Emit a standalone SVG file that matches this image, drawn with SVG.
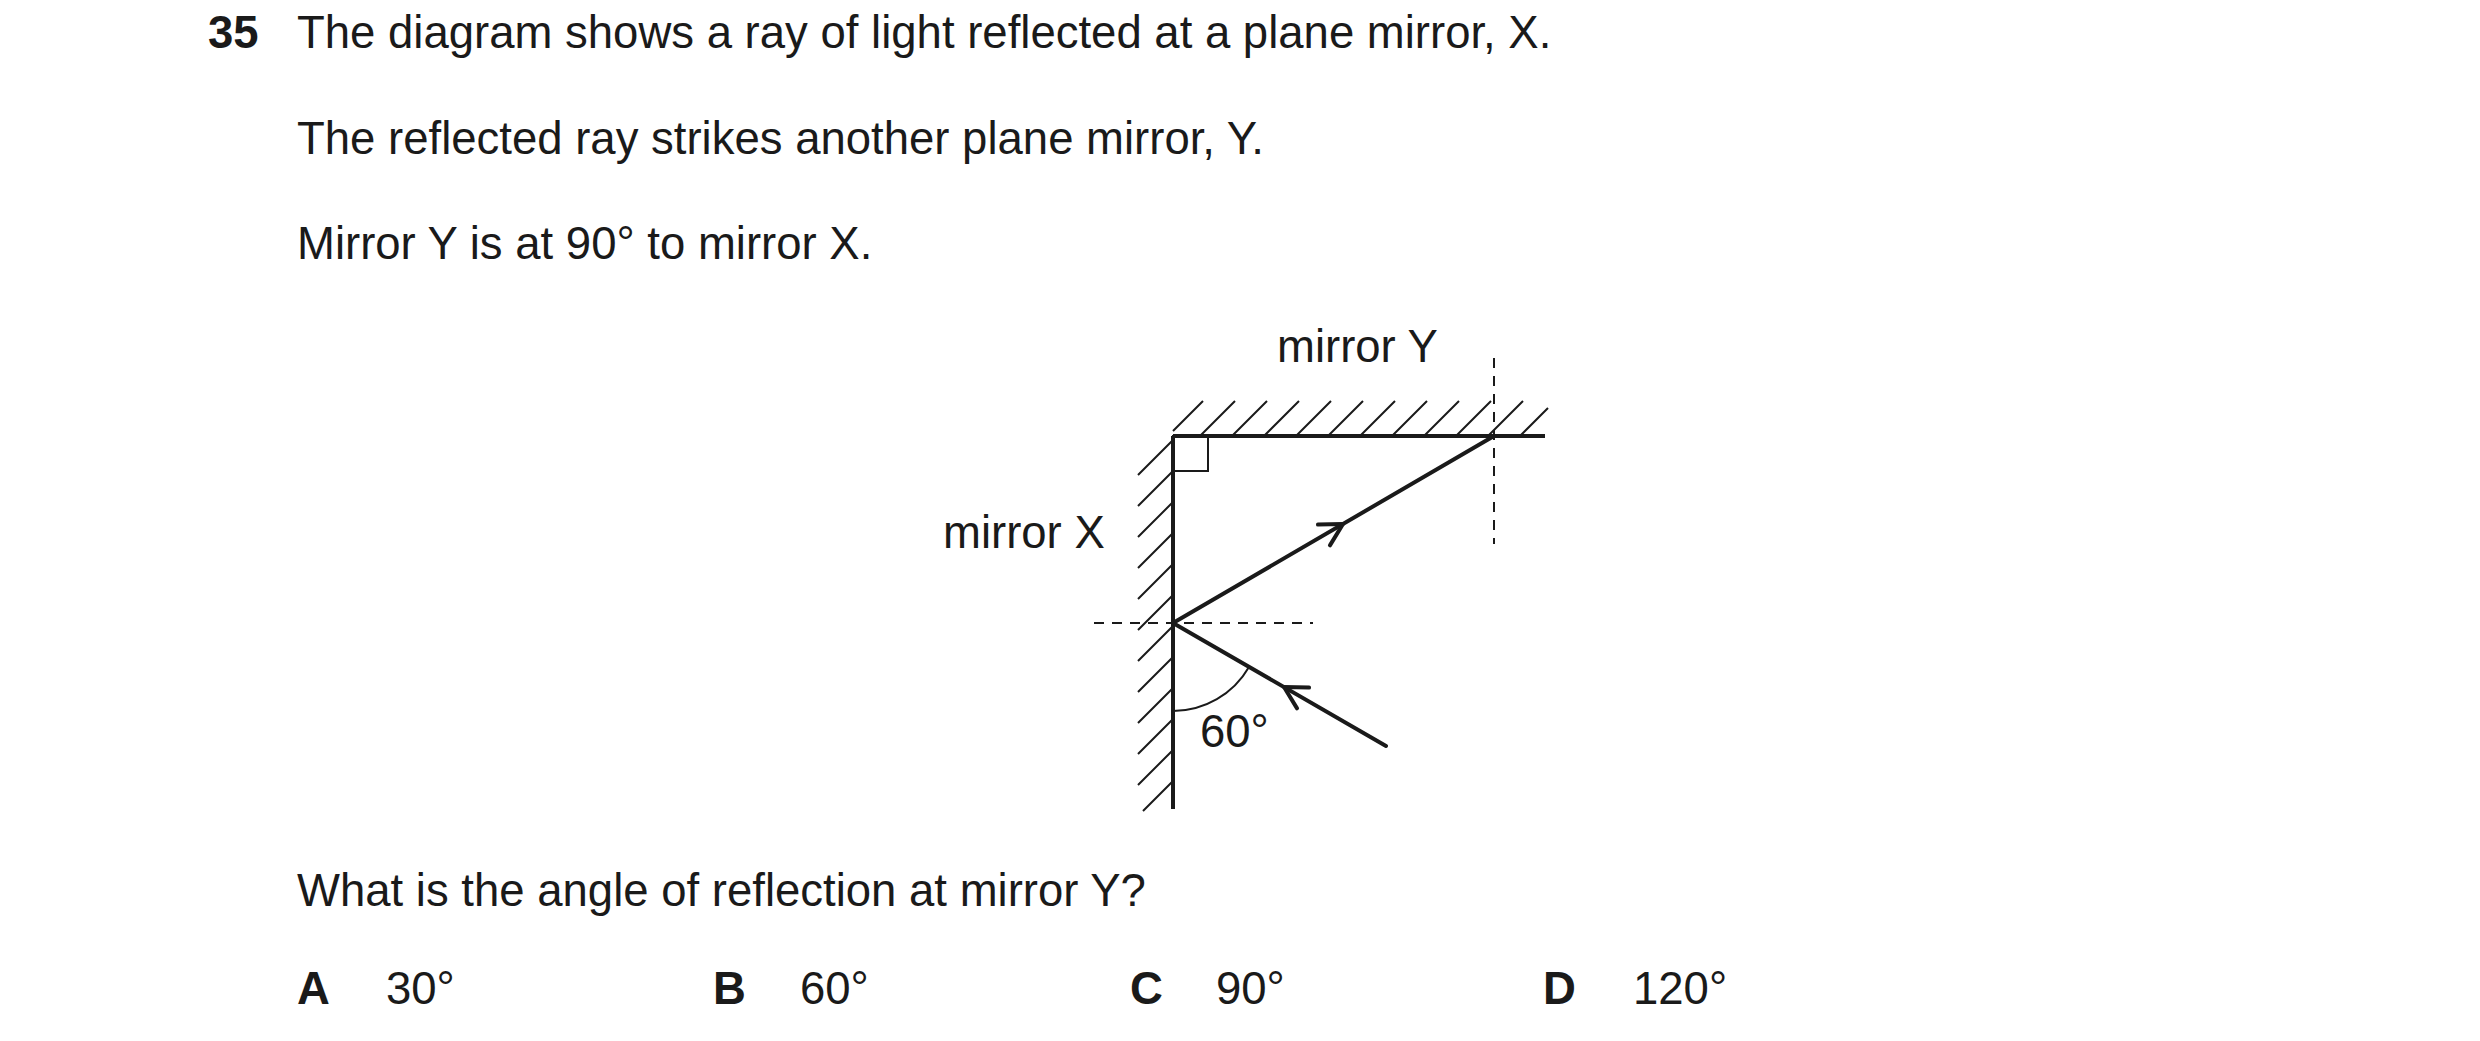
<svg xmlns="http://www.w3.org/2000/svg" width="2480" height="1041" viewBox="0 0 2480 1041">
<style>
text{font-family:"Liberation Sans",Arial,sans-serif;font-size:45.5px;fill:#1a1a1a}
.b{font-weight:bold}
.m{stroke:#1a1a1a;stroke-width:4;fill:none}
.h{stroke:#1a1a1a;stroke-width:2;fill:none}
.d{stroke:#1a1a1a;stroke-width:2;fill:none;stroke-dasharray:10,8}
.r{stroke:#1a1a1a;stroke-width:4;fill:none;stroke-linecap:round;stroke-linejoin:round}
</style>
<rect width="2480" height="1041" fill="#fff"/>
<g id="question">
<text x="208" y="48" class="b">35</text>
<text x="297" y="48">The diagram shows a ray of light reflected at a plane mirror, X.</text>
<text x="297" y="154">The reflected ray strikes another plane mirror, Y.</text>
<text x="297" y="259">Mirror Y is at 90° to mirror X.</text>
<text x="297" y="906">What is the angle of reflection at mirror Y?</text>
</g>
<g id="options">
<text x="297" y="1004" class="b">A</text><text x="386" y="1004">30°</text>
<text x="713" y="1004" class="b">B</text><text x="800" y="1004">60°</text>
<text x="1130" y="1004" class="b">C</text><text x="1216" y="1004">90°</text>
<text x="1543" y="1004" class="b">D</text><text x="1633" y="1004">120°</text>
</g>
<g id="mirrorX">
<line class="m" x1="1173" y1="436" x2="1173" y2="809"/>
<path class="h" d="M1173,440 l-35,35 M1173,471 l-35,35 M1173,502 l-35,35 M1173,533 l-35,35 M1173,564 l-35,35 M1173,595 l-35,35 M1173,626 l-35,35 M1173,657 l-35,35 M1173,688 l-35,35 M1173,719 l-35,35 M1173,750 l-35,35 M1173,781 l-30,30"/>
<text x="943" y="548">mirror X</text>
</g>
<g id="mirrorY">
<line class="m" x1="1173" y1="436" x2="1545" y2="436"/>
<path class="h" d="M1173,431 l30,-30 M1200,436 l35,-35 M1232,436 l35,-35 M1264,436 l35,-35 M1296,436 l35,-35 M1328,436 l35,-35 M1360,436 l35,-35 M1392,436 l35,-35 M1424,436 l35,-35 M1456,436 l35,-35 M1488,436 l35,-35 M1520,436 l28,-28"/>
<text x="1277" y="362">mirror Y</text>
</g>
<g id="connectors">
<rect class="h" x="1173" y="436" width="35" height="35"/>
<line class="d" x1="1494" y1="358" x2="1494" y2="544"/>
<line class="d" x1="1094" y1="623" x2="1313" y2="623"/>
<line class="r" x1="1173" y1="623" x2="1494" y2="436"/>
<line class="r" x1="1173" y1="623" x2="1386" y2="746"/>
<path class="r" d="M-22,-12 L0,0 L-22,12" transform="translate(1343,524) rotate(-30)"/>
<path class="r" d="M-22,-12 L0,0 L-22,12" transform="translate(1284,687) rotate(-150)"/>
<path class="h" d="M1173,711 A88,88 0 0 0 1249,667"/>
<text x="1200" y="747">60°</text>
</g>
</svg>
